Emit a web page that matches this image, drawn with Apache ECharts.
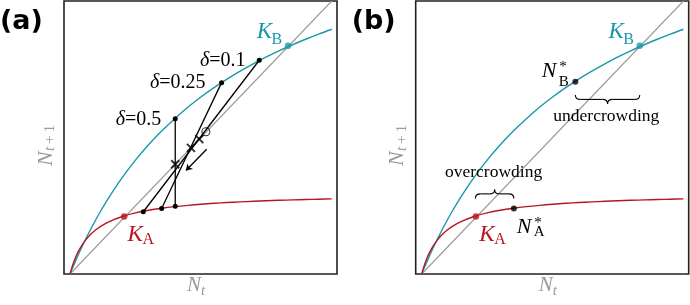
<!DOCTYPE html>
<html><head><meta charset="utf-8">
<script src="https://cdn.jsdelivr.net/npm/echarts@6/dist/echarts.min.js"></script>
<style>html,body{margin:0;padding:0;background:#fff}#c{width:690px;height:305px}</style>
</head><body><div id="c"></div>
<script>
// ---- data (axes in relative units 0..1) ----
const curveX = [0,0.005,0.01,0.02,0.03,0.04,0.06,0.08,0.1,0.12,0.15,0.2,0.25,0.3,0.35,0.4,0.45,0.5,0.55,0.6,0.65,0.7,0.75,0.8,0.85,0.9,0.95,1.0];
const tealY  = [0,0.0116,0.0230,0.0453,0.0670,0.0879,0.1280,0.1658,0.2016,0.2353,0.2827,0.3540,0.4171,0.4734,0.5238,0.5690,0.6106,0.6482,0.6826,0.7141,0.7432,0.7701,0.7950,0.8182,0.8398,0.8599,0.8788,0.8966];
const redY   = [0,0.0169,0.0320,0.0579,0.0791,0.0969,0.1250,0.1462,0.1628,0.1761,0.1918,0.2106,0.2237,0.2334,0.2408,0.2467,0.2515,0.2555,0.2589,0.2617,0.2642,0.2663,0.2682,0.2699,0.2714,0.2728,0.2740,0.2751];
const diagX = [0, 1];
const diagY = [0, 1];
const kA = [0.207, 0.211];
const kB = [0.833, 0.836];
// panel (a) cobwebs: delta = 0.5, 0.25, 0.1
const deltaVals = ['0.5', '0.25', '0.1'];
const cobTopX = [0.402, 0.579, 0.723];
const cobTopY = [0.569, 0.701, 0.783];
const cobBotX = [0.402, 0.350, 0.280];
const cobBotY = [0.248, 0.240, 0.228];
const crossX = [0.402, 0.462, 0.494];
const crossY = [0.402, 0.462, 0.494];
const circlePt = [0.519, 0.521];
const arrowFrom = [0.522, 0.457];
const arrowTo = [0.443, 0.379];
// panel (b)
const nStarX = [0.352, 0.587];
const nStarY = [0.240, 0.704];
const braceX1 = [0.205, 0.587];
const braceX2 = [0.352, 0.833];
const braceY  = [0.277, 0.656];
const braceDir = [-1, 1]; // -1: tip up, 1: tip down
const braceText = ['overcrowding', 'undercrowding'];

// ---- styles ----
const TEAL = '#1a98a8';
const RED = '#bb1420';
const GREY = '#9a9a9a';
const SERIF = '"Liberation Serif","DejaVu Serif",serif';
const P = 351.7;

const chart = echarts.init(document.getElementById('c'), null, {renderer: 'canvas'});

function grid(left) {
  return {left: left, top: 1, width: 273, height: 273, show: true, borderColor: '#222', borderWidth: 1.6, backgroundColor: 'transparent', containLabel: false};
}
const series = [];
function addPanelBase(ax) {
  series.push({type: 'line', xAxisIndex: ax, yAxisIndex: ax, data: diagX.map((x, i) => [x, diagY[i]]), showSymbol: false, lineStyle: {color: GREY, width: 1.1}, z: 1, silent: true});
  series.push({type: 'line', xAxisIndex: ax, yAxisIndex: ax, data: curveX.map((x, i) => [x, tealY[i]]), smooth: 0.3, showSymbol: false, lineStyle: {color: TEAL, width: 1.4}, z: 2});
  series.push({type: 'line', xAxisIndex: ax, yAxisIndex: ax, data: curveX.map((x, i) => [x, redY[i]]), smooth: 0.3, showSymbol: false, lineStyle: {color: RED, width: 1.4}, z: 2});
  series.push({type: 'scatter', xAxisIndex: ax, yAxisIndex: ax, data: [kA], symbolSize: 6.5, itemStyle: {color: RED}, z: 6});
  series.push({type: 'scatter', xAxisIndex: ax, yAxisIndex: ax, data: [kB], symbolSize: 6.5, itemStyle: {color: TEAL}, z: 6});
}
addPanelBase(0);
addPanelBase(1);
// cobwebs
for (let i = 0; i < cobTopX.length; i++) {
  series.push({type: 'line', xAxisIndex: 0, yAxisIndex: 0, data: [[cobTopX[i], cobTopY[i]], [cobBotX[i], cobBotY[i]]], symbol: 'circle', symbolSize: 5, showSymbol: true, itemStyle: {color: '#000'}, lineStyle: {color: '#000', width: 1.3}, z: 5});
}
series.push({type: 'scatter', xAxisIndex: 0, yAxisIndex: 0, data: crossX.map((x, i) => [x, crossY[i]]), symbol: 'path://M0,0L10,10M10,0L0,10', symbolSize: 8, itemStyle: {color: 'rgba(0,0,0,0)', borderColor: '#000', borderWidth: 2}, z: 7});
series.push({type: 'scatter', xAxisIndex: 0, yAxisIndex: 0, data: [circlePt], symbol: 'circle', symbolSize: 8, itemStyle: {color: 'rgba(0,0,0,0)', borderColor: '#000', borderWidth: 1.1}, z: 7});
series.push({type: 'lines', coordinateSystem: 'cartesian2d', xAxisIndex: 0, yAxisIndex: 0, data: [{coords: [arrowFrom, arrowTo]}], symbol: ['none', 'arrow'], symbolSize: 6, lineStyle: {color: '#000', width: 1.3, opacity: 1}, z: 7});
// panel b points
series.push({type: 'scatter', xAxisIndex: 1, yAxisIndex: 1, data: nStarX.map((x, i) => [x, nStarY[i]]), symbolSize: 6, itemStyle: {color: '#000'}, z: 6});
// braces
series.push({
  type: 'custom', xAxisIndex: 1, yAxisIndex: 1, z: 6,
  data: braceX1.map((x, i) => [x, braceX2[i], braceY[i], braceDir[i]]),
  renderItem: function (params, api) {
    const a = api.coord([api.value(0), api.value(2)]);
    const b = api.coord([api.value(1), api.value(2)]);
    const d = api.value(3);
    const h = 9;
    const x1 = a[0], x2 = b[0], y0 = a[1];
    const ym = y0 + d * h / 2, yt = y0 + d * h, xm = (x1 + x2) / 2;
    const r = Math.min(5, (x2 - x1) / 4);
    const st = {stroke: '#000', lineWidth: 1.1, fill: null};
    return {type: 'group', children: [
      {type: 'bezierCurve', shape: {x1: x1, y1: y0, cpx1: x1, cpy1: ym, x2: x1 + r, y2: ym}, style: st},
      {type: 'line', shape: {x1: x1 + r, y1: ym, x2: xm - r, y2: ym}, style: st},
      {type: 'bezierCurve', shape: {x1: xm - r, y1: ym, cpx1: xm, cpy1: ym, x2: xm, y2: yt}, style: st},
      {type: 'bezierCurve', shape: {x1: xm, y1: yt, cpx1: xm, cpy1: ym, x2: xm + r, y2: ym}, style: st},
      {type: 'line', shape: {x1: xm + r, y1: ym, x2: x2 - r, y2: ym}, style: st},
      {type: 'bezierCurve', shape: {x1: x2 - r, y1: ym, cpx1: x2, cpy1: ym, x2: x2, y2: y0}, style: st}
    ]};
  }
});

// ---- text annotations ----
function txt(x, y, text, font, fill, rich) {
  const s = {text: text, font: font, fill: fill, align: 'left', verticalAlign: 'middle'};
  if (rich) s.rich = rich;
  return {type: 'text', x: x, y: y, z: 20, style: s};
}
const it = (sz) => 'italic ' + sz + 'px ' + SERIF;
const rm = (sz) => sz + 'px ' + SERIF;
const graphics = [];
['(a)', '(b)'].forEach((lab, k) => {
  const o = k * P;
  graphics.push(txt(o + 0, 21.5, lab, 'bold 27px "DejaVu Sans"', '#000'));
  // x title
  graphics.push(txt(o + 187, 285, 'N', it(21), GREY));
  graphics.push(txt(o + 201, 291, 't', it(15), GREY));
  // y title
  graphics.push({type: 'group', x: o + 46, y: 143, rotation: Math.PI / 2, z: 20, children: [
    {type: 'text', x: -23, y: 0, style: {text: 'N', font: it(22), fill: GREY, align: 'left', verticalAlign: 'middle'}},
    {type: 'text', x: -8, y: 4, style: {text: '{i|t}{r|\u2009+\u20091}', font: rm(15), fill: GREY, align: 'left', verticalAlign: 'middle', rich: {i: {font: it(15), fill: GREY}, r: {font: rm(15), fill: GREY}}}}
  ]});
  // K_B
  graphics.push(txt(o + 256.7, 31.5, 'K', it(23), TEAL));
  graphics.push(txt(o + 271.5, 39.5, 'B', rm(16), TEAL));
  // K_A
  graphics.push(txt(o + 127.5, 235, 'K', it(23), RED));
  graphics.push(txt(o + 142.5, 239.5, 'A', rm(16), RED));
});
// delta labels
const dLeft = [115.7, 150, 200];
const dY = [119.5, 83, 60.5];
deltaVals.forEach((v, i) => {
  graphics.push(txt(dLeft[i], dY[i], '{i|δ}{r|=' + v + '}', rm(20), '#000', {i: {font: it(20), fill: '#000'}, r: {font: rm(20), fill: '#000'}}));
});
// N* labels (b)
graphics.push(txt(P + 165, 227.5, 'N', it(22), '#000'));
graphics.push(txt(P + 182.5, 223, '*', rm(15), '#000'));
graphics.push(txt(P + 182, 232, 'A', rm(15), '#000'));
graphics.push(txt(P + 190, 71.7, 'N', it(22), '#000'));
graphics.push(txt(P + 207.5, 67.5, '*', rm(15), '#000'));
graphics.push(txt(P + 207, 82, 'B', rm(15), '#000'));
// brace texts
graphics.push(txt(445, 172.5, braceText[0], rm(17.5), '#000'));
graphics.push(txt(553.3, 116.5, braceText[1], rm(17.5), '#000'));

chart.setOption({
  animation: false,
  backgroundColor: '#fff',
  grid: [grid(64), grid(64 + P)],
  xAxis: [
    {gridIndex: 0, type: 'value', min: -0.023, max: 1.020, show: false},
    {gridIndex: 1, type: 'value', min: -0.023, max: 1.020, show: false}
  ],
  yAxis: [
    {gridIndex: 0, type: 'value', min: 0, max: 1, show: false},
    {gridIndex: 1, type: 'value', min: 0, max: 1, show: false}
  ],
  series: series,
  graphic: graphics
});
</script></body></html>
